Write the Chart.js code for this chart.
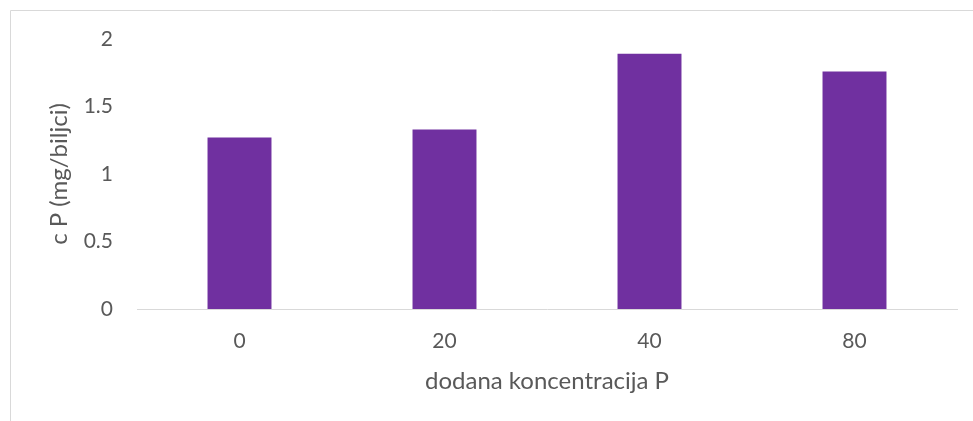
<!DOCTYPE html>
<html>
<head>
<meta charset="utf-8">
<script src="https://cdn.jsdelivr.net/npm/chart.js@4/dist/chart.umd.min.js"></script>
<style>
  html, body { margin: 0; padding: 0; background: #fff; }
  #wrap { position: relative; width: 973px; height: 421px; }
  canvas { display: block; }
</style>
</head>
<body>
<div id="wrap"><canvas id="c" width="973" height="421"></canvas></div>
<script>
const categories = ['0', '20', '40', '80'];
const values = [1.27, 1.33, 1.89, 1.76];
const yTicks = [0, 0.5, 1, 1.5, 2];
const xTitle = 'dodana koncentracija P';
const yTitle = 'c P (mg/biljci)';

const textColor = '#595959';
const fontFamily = 'Lato, "Open Sans", sans-serif';

const frame = {
  id: 'frame',
  beforeDraw(chart) {
    const ctx = chart.ctx;
    ctx.save();
    ctx.strokeStyle = '#d9d9d9';
    ctx.lineWidth = 1;
    ctx.beginPath();
    ctx.moveTo(10.5, 421);
    ctx.lineTo(10.5, 10.5);
    ctx.lineTo(973, 10.5);
    ctx.stroke();
    ctx.restore();
  }
};

new Chart(document.getElementById('c'), {
  type: 'bar',
  data: {
    labels: categories,
    datasets: [{
      data: values,
      backgroundColor: '#7030A0',
      borderWidth: 0,
      categoryPercentage: 1,
      barPercentage: 0.312
    }]
  },
  options: {
    responsive: false,
    animation: false,
    events: [],
    layout: { padding: { top: 39, right: 16, bottom: 0, left: 0 } },
    plugins: { legend: { display: false }, tooltip: { enabled: false } },
    scales: {
      x: {
        grid: { display: false, drawTicks: false },
        border: { display: true, color: '#d9d9d9', width: 1 },
        ticks: { color: textColor, font: { family: fontFamily, size: 21 }, padding: 20 },
        title: {
          display: true, text: xTitle, color: textColor,
          font: { family: fontFamily, size: 24 }, padding: { top: 0, bottom: 25 }
        },
        afterFit(scale) { scale.height = 112; }
      },
      y: {
        min: 0, max: 2,
        grid: { display: false, drawTicks: false },
        border: { display: false },
        afterBuildTicks(scale) { scale.ticks = yTicks.map(v => ({ value: v })); },
        ticks: {
          color: textColor, font: { family: fontFamily, size: 21 }, padding: 24,
          callback: (v) => String(v)
        },
        title: {
          display: true, text: yTitle, color: textColor,
          font: { family: fontFamily, size: 24 }, padding: { top: 45, bottom: 0 }
        },
        afterFit(scale) { scale.width = 137; }
      }
    }
  },
  plugins: [frame]
});
</script>
</body>
</html>
